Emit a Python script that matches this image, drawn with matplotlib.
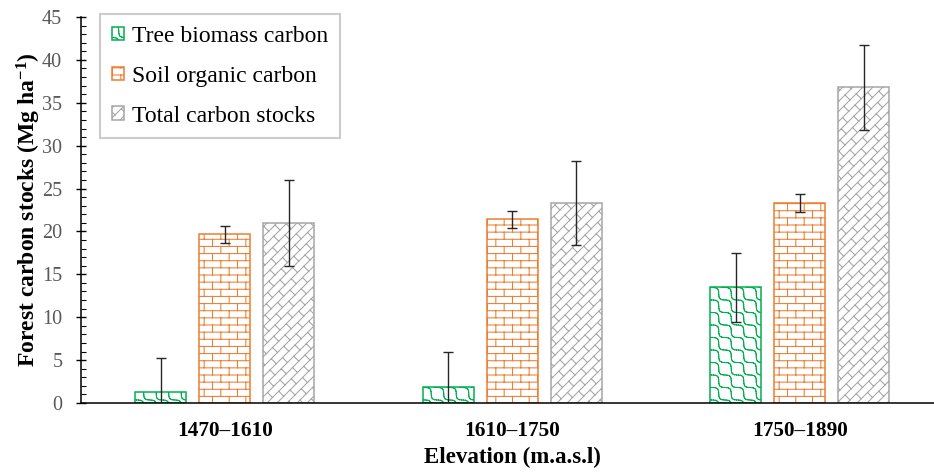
import warnings
import numpy as np
import matplotlib
matplotlib.use("Agg")
import matplotlib.pyplot as plt
import matplotlib.hatch as mhatch
from matplotlib.path import Path
from matplotlib.ticker import MultipleLocator

warnings.filterwarnings("ignore")

# ---------------- data ----------------
categories = ["1470\u20131610", "1610\u20131750", "1750\u20131890"]
series_names = ["Tree biomass carbon", "Soil organic carbon", "Total carbon stocks"]
tree_vals = [1.32, 1.83, 13.49]
tree_err = [3.9, 4.08, 4.0]
soil_vals = [19.67, 21.41, 23.28]
soil_err = [1.0, 1.0, 1.07]
total_vals = [20.98, 23.28, 36.80]
total_err = [5.0, 4.9, 4.97]

colors = ["#00B050", "#ED7D31", "#A5A5A5"]


# ---------------- custom hatch patterns ----------------
class _SegHatch(mhatch.HatchPatternBase):
    char = None

    def __init__(self, hatch, density):
        if hatch and hatch.count(self.char):
            self.segs = np.asarray(self.make(), dtype=float)
        else:
            self.segs = np.empty((0, 2, 2))
        self.num_vertices = len(self.segs) * 2

    def set_vertices_and_codes(self, vertices, codes):
        vertices[:] = self.segs.reshape(-1, 2)
        codes[0::2] = Path.MOVETO
        codes[1::2] = Path.LINETO


class BrickHatch(_SegHatch):
    char = "b"

    def make(self):
        n, m = 14, 6
        segs = []
        for i in range(-1, n + 1):
            y0 = (i + 0.5) / n
            y1 = (i + 1.5) / n
            segs.append([(-0.1, y0), (1.1, y0)])
            for j in range(-1, m + 1):
                x = (j + 0.25 + 0.5 * (i % 2)) / m
                segs.append([(x, y0), (x, y1)])
        return segs


class DiagBrickHatch(_SegHatch):
    char = "g"

    def make(self):
        k, p = 10, 4
        segs = []

        def xy(u, v):
            return ((u + v) / 2.0, (v - u) / 2.0)

        for i in range(-k - 1, k + 2):
            u = i / k
            segs.append([xy(u, -0.5), xy(u, 2.5)])
        for i in range(-k - 1, k + 1):
            u0, u1 = i / k, (i + 1) / k
            for j in range(-2, 2 * p + 3):
                v = (j + 0.5 * (i % 2)) / p
                segs.append([xy(u0, v), xy(u1, v)])
        return segs


class WaveHatch(_SegHatch):
    char = "w"

    def make(self):
        k, q, a = 8, 8, 0.026
        segs = []
        t = np.linspace(-0.2, 1.2, 141)
        for i in range(0, 2 * k + 1):
            c = i / k
            d = a * np.sin(2 * np.pi * q * t) / np.sqrt(2)
            x = t + d
            y = c - t + d
            for s in range(len(t) - 1):
                segs.append([(x[s], y[s]), (x[s + 1], y[s + 1])])
        return segs


mhatch._hatch_types.extend([BrickHatch, DiagBrickHatch, WaveHatch])
hatches = ["w", "b", "g"]

# ---------------- style ----------------
plt.rcParams["font.family"] = ["Liberation Serif", "DejaVu Serif"]
plt.rcParams["mathtext.fontset"] = "custom"
plt.rcParams["mathtext.rm"] = "Liberation Serif"
plt.rcParams["mathtext.bf"] = "Liberation Serif:bold"
plt.rcParams["mathtext.it"] = "Liberation Serif:italic"
plt.rcParams["mathtext.default"] = "bf"
plt.rcParams["hatch.linewidth"] = 0.75

fig = plt.figure(figsize=(9.34, 4.74), dpi=100)
W, H = 934, 474
ax = fig.add_axes([81 / W, 1 - 403 / H, 862.5 / W, 386 / H])

x = np.arange(len(categories))
width = 0.178
offsets = [-0.2226, 0.0, 0.2226]
vals = [tree_vals, soil_vals, total_vals]
errs = [tree_err, soil_err, total_err]

for k in range(3):
    ax.bar(x + offsets[k], vals[k], width, color="white", edgecolor=colors[k],
           linewidth=1.1, hatch=hatches[k], label=series_names[k], zorder=2)
for k in range(3):
    ax.errorbar(x + offsets[k], vals[k], yerr=errs[k], fmt="none",
                ecolor="#262626", elinewidth=1.0, capsize=3.6, capthick=1.0,
                zorder=3)

ax.set_xlim(-0.5, 2.5)
ax.set_ylim(0, 45)
ax.yaxis.set_major_locator(MultipleLocator(5))
ax.yaxis.set_minor_locator(MultipleLocator(1))

for s in ["top", "right"]:
    ax.spines[s].set_visible(False)
for s in ["left", "bottom"]:
    ax.spines[s].set_linewidth(1.1)
    ax.spines[s].set_color("black")

ax.tick_params(axis="y", which="major", direction="inout", length=7, width=1.0,
               color="black", labelsize=14.5, labelcolor="#595959", pad=10)
ax.tick_params(axis="y", which="minor", direction="in", length=3.5, width=0.8,
               color="black")
ax.tick_params(axis="x", which="both", length=0, pad=13, labelsize=15.3)

ax.set_xticks(x)
ax.set_xticklabels(categories, fontweight="bold")

ax.set_xlabel("Elevation (m.a.s.l)", fontsize=16.5, fontweight="bold")
ax.xaxis.set_label_coords(0.5, -(447 - 403) / 386)
ax.set_ylabel("Forest carbon stocks (Mg ha$^{-1}$)", fontsize=17,
              fontweight="bold")
ax.yaxis.set_label_coords(-(81 - 43.5) / 862.5, 0.5)

leg = ax.legend(loc="upper left", bbox_to_anchor=(100 / W, 1 - 14 / H),
                bbox_transform=fig.transFigure, borderaxespad=0,
                fontsize=17, frameon=True, fancybox=False, shadow=False,
                handlelength=0.5, handleheight=0.5, handletextpad=0.34,
                labelspacing=0.8, borderpad=0.5)
leg.get_frame().set_edgecolor("#BFBFBF")
leg.get_frame().set_linewidth(1.5)

fig.savefig("out.png", dpi=100)
